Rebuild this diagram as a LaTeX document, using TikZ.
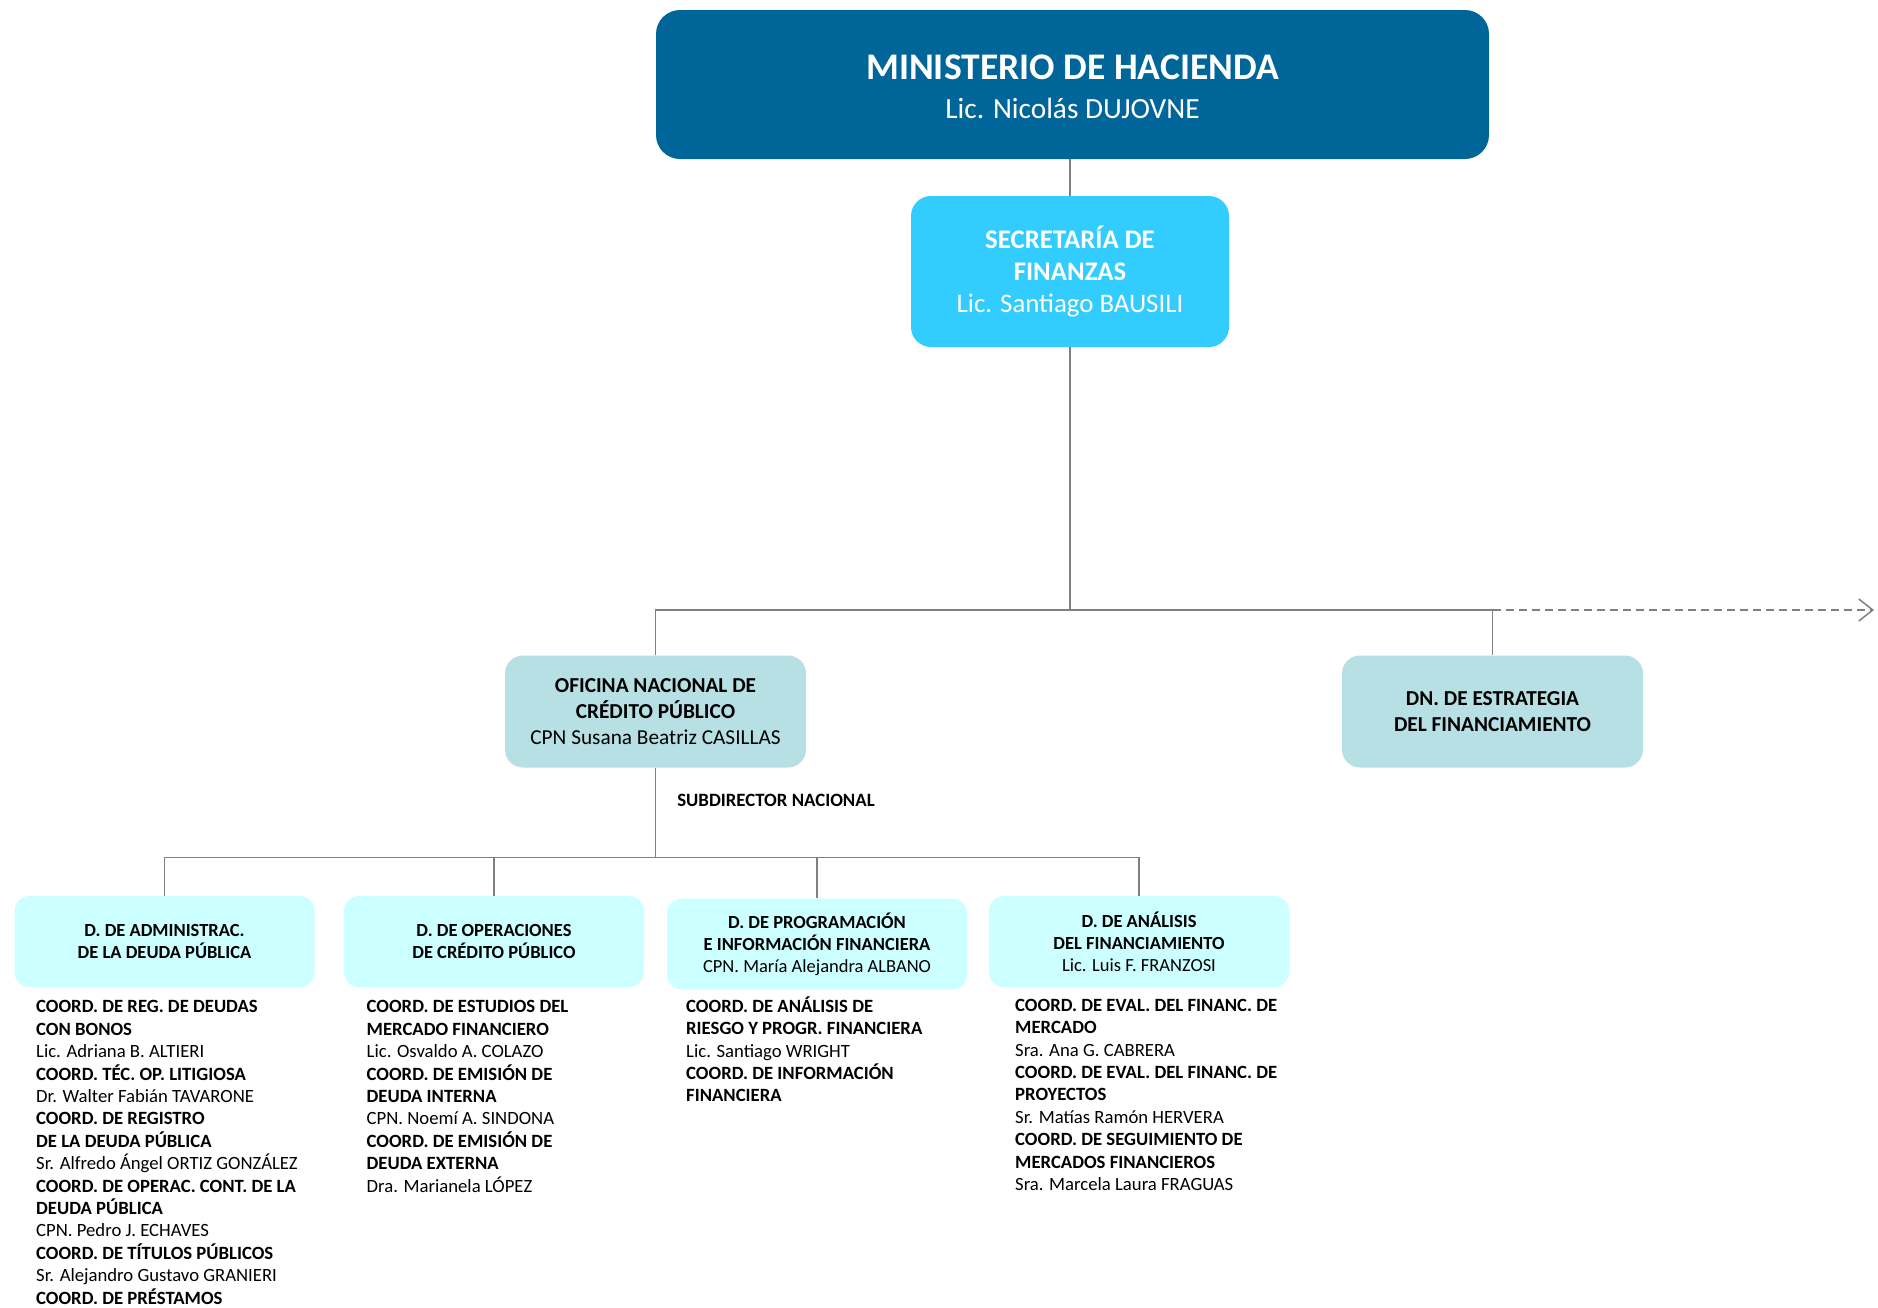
\documentclass[tikz,border=0pt]{standalone}
\usepackage{fontspec}
\setmainfont{Carlito}
\usetikzlibrary{arrows.meta}
\definecolor{minblue}{HTML}{006699}
\definecolor{secblue}{HTML}{33CCFF}
\definecolor{ofiteal}{HTML}{B7E0E4}
\definecolor{childcyan}{HTML}{CCFFFF}
\definecolor{linegray}{HTML}{808080}
\begin{document}
\begin{tikzpicture}[x=1pt,y=-1pt,
  boxbase/.style={rounded corners=#1, inner sep=0pt, align=center},
  minbox/.style={boxbase=24pt, fill=minblue, text=white, minimum width=833pt, minimum height=149pt},
  secbox/.style={boxbase=20pt, fill=secblue, text=white, minimum width=318pt, minimum height=151pt},
  ofibox/.style={boxbase=18pt, fill=ofiteal, text=black, minimum width=301pt, minimum height=112pt,
     font=\fontsize{21.3}{25.6}\selectfont},
  childbox/.style={boxbase=15pt, fill=childcyan, text=black, minimum width=300pt, minimum height=91pt,
     font=\fontsize{18.5}{22}\selectfont},
  conn/.style={draw=linegray, line width=1.8pt},
  listtext/.style={anchor=north west, inner sep=0pt, align=left,
     font=\fontsize{18.7}{22.4}\selectfont},
]
\useasboundingbox (0,0) rectangle (1878,1307);
\fill[white] (0,0) rectangle (1878,1307);

% boxes
\path[fill=minblue, rounded corners=24pt] (656,10) rectangle (1489,159);
\node[minbox, fill=none, font=\fontsize{29.3}{39}\selectfont] (min) at (1072.5,87)
  {{\fontsize{37.6}{41}\selectfont\bfseries MINISTERIO DE HACIENDA}\\
   Lic. Nicolás DUJOVNE};
\node[secbox, font=\fontsize{26.8}{32.3}\selectfont] (sec) at (1070,271.5)
  {\textbf{SECRETARÍA DE}\\ \textbf{FINANZAS}\\ Lic. Santiago BAUSILI};
\node[ofibox] (ofi) at (655.5,711.5)
  {\textbf{OFICINA NACIONAL DE}\\ \textbf{CRÉDITO PÚBLICO}\\ CPN Susana Beatriz CASILLAS};
\node[ofibox] (dn) at (1492.5,711.5)
  {\textbf{DN. DE ESTRATEGIA}\\ \textbf{DEL FINANCIAMIENTO}};
\node[font=\fontsize{18.8}{22}\selectfont\bfseries, inner sep=0pt] (sub) at (776,800) {SUBDIRECTOR NACIONAL};

\node[childbox] (c1) at (164.5,941.5) {\raisebox{-2pt}{\textbf{D. DE ADMINISTRAC.}}\\ \raisebox{-2pt}{\textbf{DE LA DEUDA PÚBLICA}}};
\node[childbox] (c2) at (494,941.5) {\raisebox{-2pt}{\textbf{D. DE OPERACIONES}}\\ \raisebox{-2pt}{\textbf{DE CRÉDITO PÚBLICO}}};
\node[childbox] (c3) at (817,944) {\textbf{D. DE PROGRAMACIÓN}\\ \textbf{E INFORMACIÓN FINANCIERA}\\ CPN. María Alejandra ALBANO};
\node[childbox] (c4) at (1139,941.5) {\textbf{D. DE ANÁLISIS}\\ \textbf{DEL FINANCIAMIENTO}\\ Lic. Luis F. FRANZOSI};

% connectors
\coordinate (minbot) at (1069.5,159);
\coordinate (busA) at (0,610);
\coordinate (busB) at (0,857.5);
\coordinate (arrowend) at (1874,610);
\draw[conn] (minbot -| sec.north) -- (sec.north);
\draw[conn] (sec.south) -- (sec.south |- busA);
\draw[conn] (ofi.north) -- (ofi.north |- busA) -- (dn.north |- busA) -- (dn.north);
\draw[draw=linegray, line width=1.5pt, dash pattern=on 8pt off 5pt,
      -{Straight Barb[length=14pt,width=22pt,line width=1.5pt]}]
      (dn.north |- busA) -- (arrowend);
\draw[conn] (ofi.south) -- (ofi.south |- busB);
\draw[conn] (c1.north) -- (c1.north |- busB) -- (c4.north |- busB) -- (c4.north);
\draw[conn] (c2.north) -- (c2.north |- busB);
\draw[conn] (c3.north) -- (c3.north |- busB);

% lists (north = first baseline - 0.7*22.4)
\node[listtext] (l1) at (36,997.0) {%
\strut\textbf{COORD. DE REG. DE DEUDAS}\\
\textbf{CON BONOS}\\
Lic. Adriana B. ALTIERI\\
\textbf{COORD. TÉC. OP. LITIGIOSA}\\
Dr. Walter Fabián TAVARONE\\
\textbf{COORD. DE REGISTRO}\\
\textbf{DE LA DEUDA PÚBLICA}\\
Sr. Alfredo Ángel ORTIZ GONZÁLEZ\\
\textbf{COORD. DE OPERAC. CONT. DE LA}\\
\textbf{DEUDA PÚBLICA}\\
CPN. Pedro J. ECHAVES\\
\textbf{COORD. DE TÍTULOS PÚBLICOS}\\
Sr. Alejandro Gustavo GRANIERI\\
\textbf{COORD. DE PRÉSTAMOS}};

\node[listtext] (l2) at (366.5,997.0) {%
\strut\textbf{COORD. DE ESTUDIOS DEL}\\
\textbf{MERCADO FINANCIERO}\\
Lic. Osvaldo A. COLAZO\\
\textbf{COORD. DE EMISIÓN DE}\\
\textbf{DEUDA INTERNA}\\
CPN. Noemí A. SINDONA\\
\textbf{COORD. DE EMISIÓN DE}\\
\textbf{DEUDA EXTERNA}\\
Dra. Marianela LÓPEZ};

\node[listtext] (l3) at (686,996.3) {%
\strut\textbf{COORD. DE ANÁLISIS DE}\\
\textbf{RIESGO Y PROGR. FINANCIERA}\\
Lic. Santiago WRIGHT\\
\textbf{COORD. DE INFORMACIÓN}\\
\textbf{FINANCIERA}};

\node[listtext] (l4) at (1015,995.3) {%
\strut\textbf{COORD. DE EVAL. DEL FINANC. DE}\\
\textbf{MERCADO}\\
Sra. Ana G. CABRERA\\
\textbf{COORD. DE EVAL. DEL FINANC. DE}\\
\textbf{PROYECTOS}\\
Sr. Matías Ramón HERVERA\\
\textbf{COORD. DE SEGUIMIENTO DE}\\
\textbf{MERCADOS FINANCIEROS}\\
Sra. Marcela Laura FRAGUAS};
\end{tikzpicture}
\end{document}
